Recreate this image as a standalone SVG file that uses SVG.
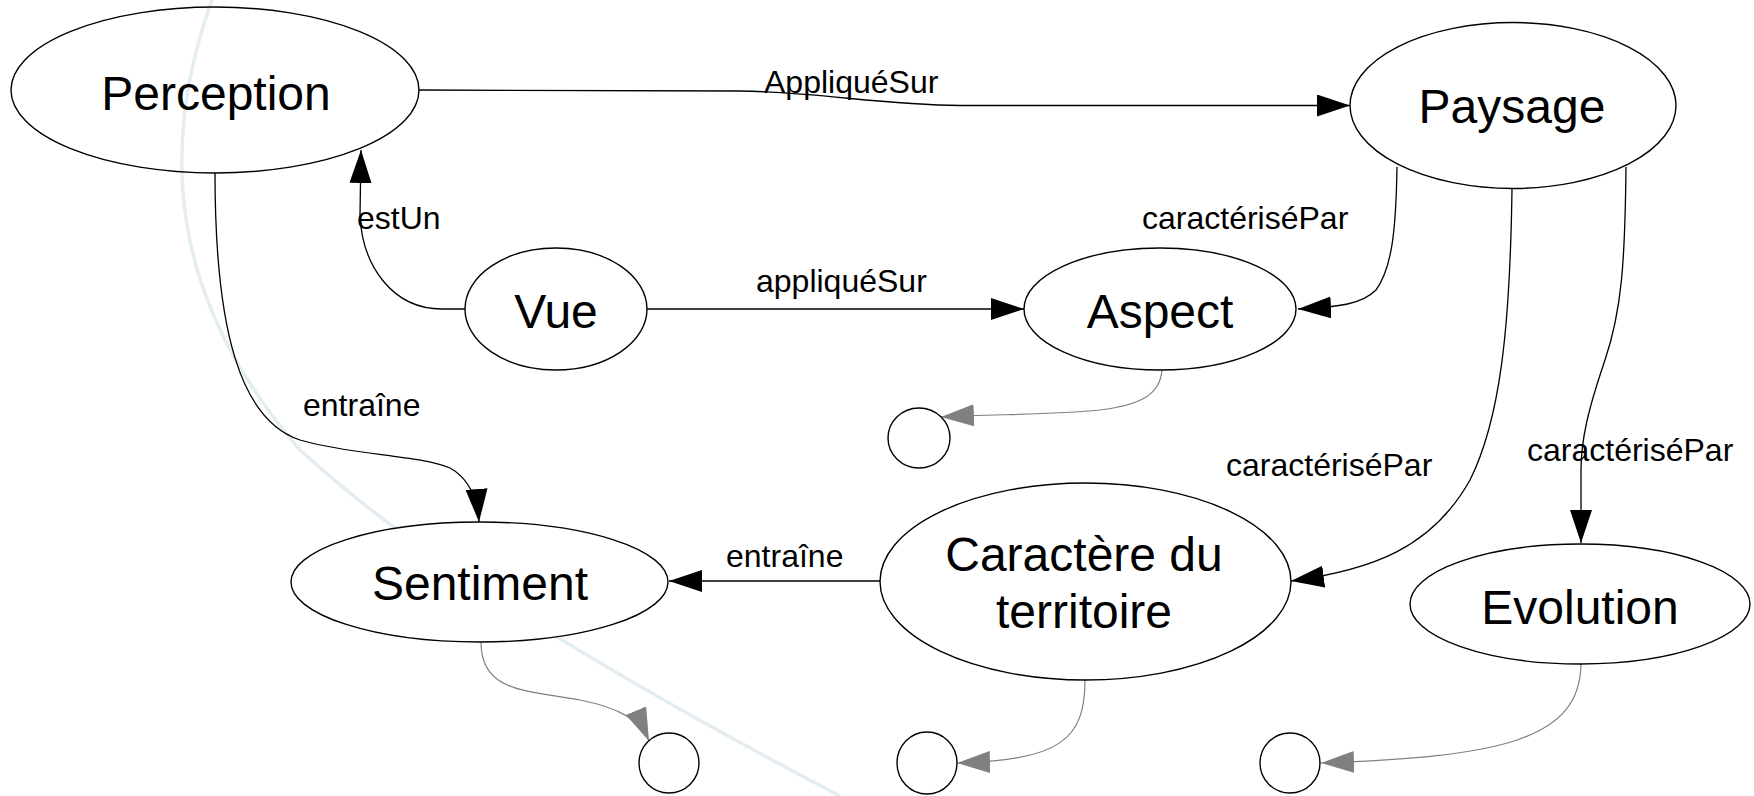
<svg xmlns="http://www.w3.org/2000/svg" width="1754" height="796" viewBox="0 0 1754 796">
<style>
.node{fill:#fff;stroke:#000;stroke-width:1.4}
.small{fill:#fff;stroke:#000;stroke-width:1.4}
.nt{font-family:"Liberation Sans",Arial,sans-serif;font-size:48px;fill:#000;text-anchor:middle}
.lbl{font-family:"Liberation Sans",Arial,sans-serif;font-size:32px;fill:#000}
.e{fill:none;stroke:#000;stroke-width:1.3}
.g{fill:none;stroke:#808080;stroke-width:1.2}
</style>
<defs>
<marker id="ab" markerUnits="userSpaceOnUse" markerWidth="34" markerHeight="24" refX="33" refY="11" orient="auto">
<path d="M0,0 L33,11 L0,22 z" fill="#000"/>
</marker>
<marker id="ag" markerUnits="userSpaceOnUse" markerWidth="34" markerHeight="24" refX="33" refY="11" orient="auto">
<path d="M0,0 L33,11 L0,22 z" fill="#808080"/>
</marker>
</defs>
<rect width="1754" height="796" fill="#fff"/>
<path d="M212,0 C158,150 170,300 300,450 C420,560 600,670 840,796" fill="none" stroke="#e4edf1" stroke-width="3.5"/>
<g id="perception"><ellipse cx="215" cy="90" rx="204" ry="83" fill="none" stroke="#000" stroke-width="1.4"/><text class="nt" x="216" y="110">Perception</text></g>
<g id="connectors">
<path class="e" d="M419,90 L740,91 C820,92 880,105 960,105.5 L1350,105.5" marker-end="url(#ab)"/>
<path class="e" d="M465,309 L442,309 C392,309 362,265 360,215 L361,150" marker-end="url(#ab)"/>
<path class="e" d="M647,309 L1024,309" marker-end="url(#ab)"/>
<path class="e" d="M1397,167 C1396,230 1392,268 1376,290 C1362,304 1340,307 1298,309" marker-end="url(#ab)"/>
<path class="e" d="M1512,189 C1510,330 1500,420 1470,480 C1432,548 1372,570 1291,581" marker-end="url(#ab)"/>
<path class="e" d="M1626,167 C1625,260 1622,310 1605,360 C1588,410 1581,440 1581,470 L1581,543" marker-end="url(#ab)"/>
<path class="e" d="M215,173 C215,330 240,420 300,440 C350,455 420,455 450,468 C468,478 477,495 479,522" marker-end="url(#ab)"/>
<path class="e" d="M880,581 L669,581" marker-end="url(#ab)"/>
<path class="g" d="M1162,370 C1160,395 1140,405 1100,410 C1050,415 1000,414 941,417" marker-end="url(#ag)"/>
<path class="g" d="M481,642 C481,690 520,690 580,700 C620,708 640,720 649,741" marker-end="url(#ag)"/>
<path class="g" d="M1085,680 C1085,740 1060,760 957,763" marker-end="url(#ag)"/>
<path class="g" d="M1581,664 C1580,740 1500,757 1321,763" marker-end="url(#ag)"/>
<text class="lbl" x="764" y="93">AppliquéSur</text>
<text class="lbl" x="357" y="229">estUn</text>
<text class="lbl" x="756" y="292">appliquéSur</text>
<text class="lbl" x="1142" y="229">caractériséPar</text>
<text class="lbl" x="1226" y="476">caractériséPar</text>
<text class="lbl" x="1527" y="461">caractériséPar</text>
<text class="lbl" x="303" y="416">entraîne</text>
<text class="lbl" x="726" y="567">entraîne</text>
</g>
<g id="paysage"><ellipse class="node" cx="1513" cy="105.5" rx="163" ry="83"/><text class="nt" x="1512" y="123">Paysage</text></g>
<g id="vue"><ellipse class="node" cx="556" cy="309" rx="91" ry="61"/><text class="nt" x="556" y="328">Vue</text></g>
<g id="aspect"><ellipse class="node" cx="1160" cy="309" rx="136" ry="61"/><text class="nt" x="1160" y="328">Aspect</text></g>
<g id="sentiment"><ellipse class="node" cx="479.5" cy="582" rx="188.5" ry="60"/><text class="nt" x="480" y="600">Sentiment</text></g>
<g id="caractere"><ellipse class="node" cx="1085.5" cy="581.5" rx="205.5" ry="98.5"/><text class="nt" x="1084" y="571">Caractère du</text><text class="nt" x="1084" y="628">territoire</text></g>
<g id="evolution"><ellipse class="node" cx="1580" cy="604" rx="170" ry="60"/><text class="nt" x="1580" y="624">Evolution</text></g>
<g id="c1"><ellipse class="small" cx="919" cy="438" rx="31" ry="30"/></g>
<g id="c2"><ellipse class="small" cx="669" cy="763" rx="30" ry="30"/></g>
<g id="c3"><ellipse class="small" cx="927" cy="763" rx="30" ry="31"/></g>
<g id="c4"><ellipse class="small" cx="1290" cy="763" rx="30" ry="30"/></g>
</svg>
